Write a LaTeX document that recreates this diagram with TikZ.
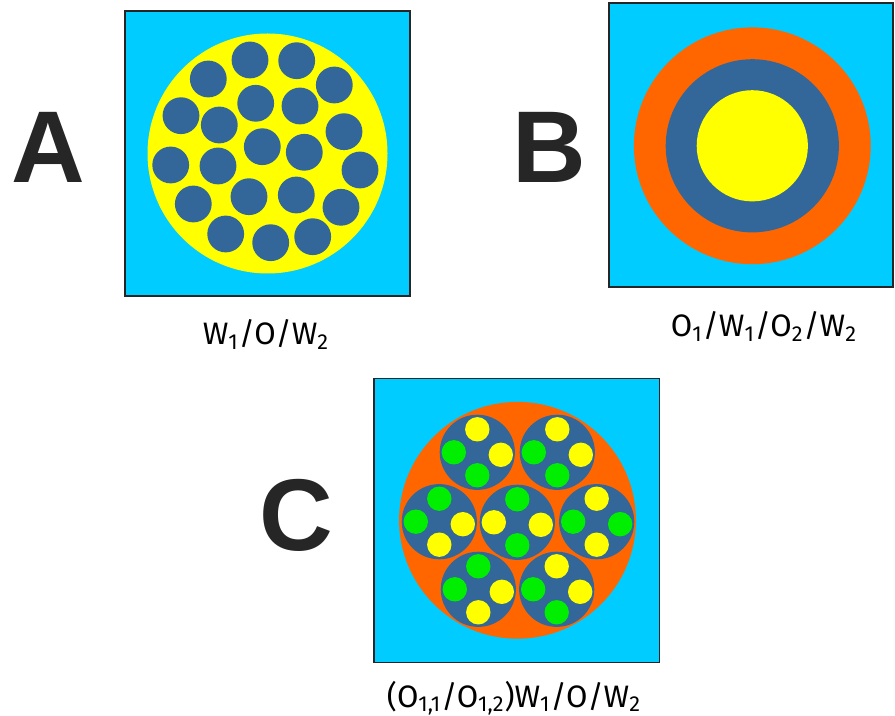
\documentclass[tikz,border=0pt]{standalone}
\usepackage{fontspec}
\setmainfont{Fira Sans}
\newfontfamily\letterfont{Liberation Sans}
\usetikzlibrary{positioning}
\definecolor{dropcyan}{RGB}{0,204,255}
\definecolor{dropyellow}{RGB}{255,255,0}
\definecolor{dropblue}{RGB}{51,102,153}
\definecolor{droporange}{RGB}{255,102,0}
\definecolor{dropgreen}{RGB}{0,238,0}

\begin{document}
\begin{tikzpicture}[
        x=0.5pt, y=-0.5pt, % pixel grid, y downwards
        panel/.style={fill=dropcyan, draw=black!85, line width=0.6pt},
        letter/.style={font=\letterfont\bfseries\fontsize{51}{51}\selectfont, text=black!85, inner sep=0pt, anchor=base},
        caption/.style={font=\fontsize{15.5}{15.5}\selectfont, inner sep=0pt, anchor=base}
    ]
        \useasboundingbox (0,0) rectangle (895,716);

        % --- PANEL A ---
        \node[letter] (letA) at (48,183) {A};
        \draw[panel] (125,11) rectangle (410,296);
        \fill[dropyellow] (267.5,153.5) circle[radius=60pt];
        \foreach \px/\py in {250/60, 296.7/60.7, 208.3/79, 334.3/85, 255.7/103.3,
                300/106, 181/115.7, 219.3/125, 344/131.7, 262.3/146.7, 304.3/152.3,
                170.7/165, 218/166, 360/170, 193.3/204, 249/196.7, 296.3/195,
                341/207.3, 225.7/234, 270.7/242.7, 312.7/236.7}
            \fill[dropblue] (\px,\py) circle[radius=9.2pt];
        \node[caption] (capA) at (266,345) {W\textsubscript{1}/O/W\textsubscript{2}};

        % --- PANEL B ---
        \node[letter] (letB) at (549,183) {B};
        \draw[panel] (609,3) rectangle (893,287);
        \fill[droporange] (752.3,145.8) circle[radius=59.2pt];
        \fill[dropblue] (752.3,145.8) circle[radius=43.3pt];
        \fill[dropyellow] (752.3,145.8) circle[radius=27.8pt];
        \node[caption] (capB) at (764,337) {O\textsubscript{1}/W\textsubscript{1}/O\textsubscript{2}/W\textsubscript{2}};

        % --- PANEL C ---
        \node[letter] (letC) at (296.5,551) {C};
        \draw[panel] (374,378.3) rectangle (659.3,662.3);
        \fill[droporange] (517.5,520.3) circle[radius=59.2pt];
        % blob centre / top / left / right / bottom droplet colours
        \foreach \cx/\cy/\ct/\cl/\cr/\cb in {
                477.3/452.3/dropyellow/dropgreen/dropyellow/dropgreen,
                557.3/452.3/dropyellow/dropgreen/dropyellow/dropgreen,
                439.3/521.7/dropgreen/dropgreen/dropyellow/dropyellow,
                517.3/522.3/dropgreen/dropyellow/dropyellow/dropgreen,
                596.7/521.7/dropyellow/dropgreen/dropgreen/dropyellow,
                478.3/589.3/dropgreen/dropgreen/dropyellow/dropyellow,
                556.7/589.3/dropyellow/dropgreen/dropyellow/dropgreen} {
            \fill[dropblue] (\cx,\cy) circle[radius=18.8pt];
            \fill[\ct] (\cx,\cy-23) circle[radius=6.1pt];
            \fill[\cl] (\cx-23.5,\cy) circle[radius=6.1pt];
            \fill[\cr] (\cx+23.5,\cy+2.5) circle[radius=6.1pt];
            \fill[\cb] (\cx,\cy+23) circle[radius=6.1pt];
        }
        \node[caption] (capC) at (514,707) {(O\textsubscript{1,1}/O\textsubscript{1,2})W\textsubscript{1}/O/W\textsubscript{2}};
    \end{tikzpicture}
\end{document}
